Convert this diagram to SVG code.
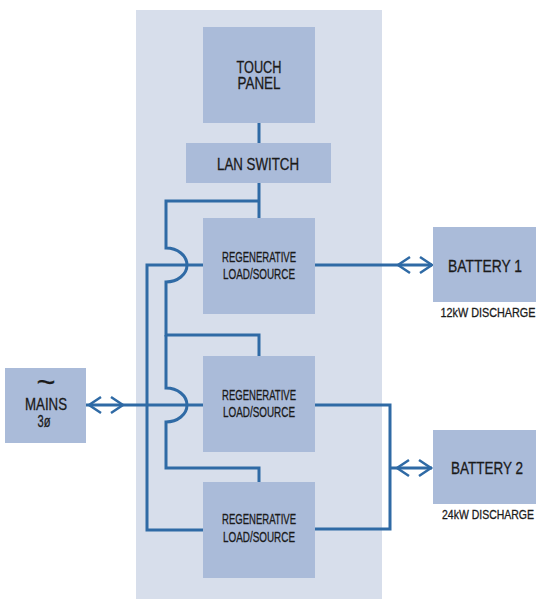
<svg xmlns="http://www.w3.org/2000/svg" width="537" height="599" viewBox="0 0 537 599">
<style>
.box{fill:#aabbd9}
.ln{fill:none;stroke:#2f6aa5;stroke-width:3}
.ar{fill:none;stroke:#2f6aa5;stroke-width:2.5;stroke-linejoin:miter}
text{font-family:"Liberation Sans",Arial,sans-serif;fill:#1a1a1a;stroke:#1a1a1a;stroke-width:0.3;text-anchor:middle}
.big{font-size:17px}
.mid{font-size:14px}
.sm{font-size:13px}
</style>
<rect x="136" y="10" width="246" height="589" fill="#d7deeb"/>
<g id="connectors">
<path class="ln" d="M259 123 V143"/>
<path class="ln" d="M259 183 V218"/>
<path class="ln" d="M259 201 H166 V248 A21 17 0 0 1 166 282 V335 H259 V356"/>
<path class="ln" d="M166 335 V388 A21 17 0 0 1 166 422 V468 H259 V482"/>
<path class="ln" d="M203 265 H147 V530 H203"/>
<path class="ln" d="M86 405 H203"/>
<path class="ln" d="M315 265 H432"/>
<path class="ln" d="M315 405 H390 V529 H315"/>
<path class="ln" d="M390 468 H432"/>
<polyline class="ar" points="101,397 89,405 101,413"/>
<polyline class="ar" points="111,397 123,405 111,413"/>
<polyline class="ar" points="410,257 398,265 410,273"/>
<polyline class="ar" points="420,257 432,265 420,273"/>
<polyline class="ar" points="409,460 397,468 409,476"/>
<polyline class="ar" points="419,460 431,468 419,476"/>
</g>
<g id="touch-panel">
<rect class="box" x="203" y="27" width="112" height="96"/>
<text class="big" x="259" y="73" textLength="45" lengthAdjust="spacingAndGlyphs">TOUCH</text>
<text class="big" x="259" y="89" textLength="43" lengthAdjust="spacingAndGlyphs">PANEL</text>
</g>
<g id="lan-switch">
<rect class="box" x="186" y="143" width="145" height="40"/>
<text class="big" x="258" y="169.5" textLength="82" lengthAdjust="spacingAndGlyphs">LAN SWITCH</text>
</g>
<g id="regen-1">
<rect class="box" x="203" y="218" width="112" height="96"/>
<text class="mid" x="259" y="262" textLength="74" lengthAdjust="spacingAndGlyphs">REGENERATIVE</text>
<text class="mid" x="259" y="279" textLength="72" lengthAdjust="spacingAndGlyphs">LOAD/SOURCE</text>
</g>
<g id="regen-2">
<rect class="box" x="203" y="356" width="112" height="96"/>
<text class="mid" x="259" y="399.5" textLength="74" lengthAdjust="spacingAndGlyphs">REGENERATIVE</text>
<text class="mid" x="259" y="417" textLength="72" lengthAdjust="spacingAndGlyphs">LOAD/SOURCE</text>
</g>
<g id="regen-3">
<rect class="box" x="203" y="482" width="112" height="96"/>
<text class="mid" x="259" y="524" textLength="74" lengthAdjust="spacingAndGlyphs">REGENERATIVE</text>
<text class="mid" x="259" y="541.5" textLength="72" lengthAdjust="spacingAndGlyphs">LOAD/SOURCE</text>
</g>
<g id="mains">
<rect class="box" x="5" y="368" width="81" height="75"/>
<text x="46" y="392" font-size="28" textLength="19" lengthAdjust="spacingAndGlyphs">~</text>
<text class="big" x="46" y="410" textLength="42" lengthAdjust="spacingAndGlyphs">MAINS</text>
<text class="big" x="44" y="427" textLength="13" lengthAdjust="spacingAndGlyphs">3ø</text>
</g>
<g id="battery-1">
<rect class="box" x="433" y="227" width="103" height="75"/>
<text class="big" x="485" y="272" textLength="74" lengthAdjust="spacingAndGlyphs">BATTERY 1</text>
<text class="sm" x="488" y="317" textLength="95" lengthAdjust="spacingAndGlyphs">12kW DISCHARGE</text>
</g>
<g id="battery-2">
<rect class="box" x="433" y="430" width="103" height="74"/>
<text class="big" x="487" y="474" textLength="72" lengthAdjust="spacingAndGlyphs">BATTERY 2</text>
<text class="sm" x="488" y="519" textLength="92" lengthAdjust="spacingAndGlyphs">24kW DISCHARGE</text>
</g>
</svg>
